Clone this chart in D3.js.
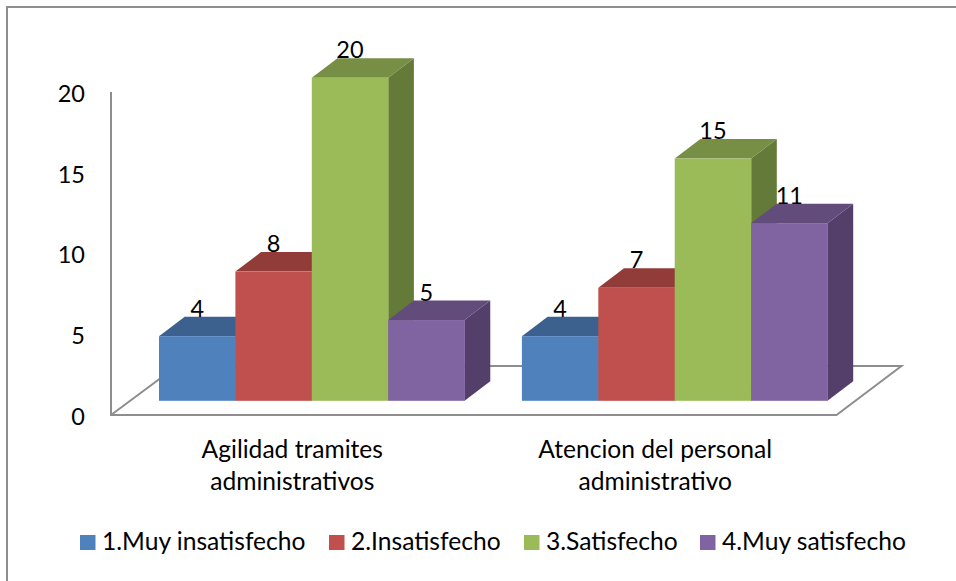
<!DOCTYPE html>
<html>
<head>
<meta charset="utf-8">
<script src="https://cdn.jsdelivr.net/npm/d3@7/dist/d3.min.js"></script>
<style>
html,body{margin:0;padding:0;background:#fff;}
svg{display:block;}
text{font-family:Lato,"Open Sans",sans-serif;fill:#000;}
</style>
</head>
<body>
<svg id="chart" width="956" height="581"></svg>
<script>
const categories = [["Agilidad tramites","administrativos"],["Atencion del personal","administrativo"]];
const seriesNames = ["1.Muy insatisfecho","2.Insatisfecho","3.Satisfecho","4.Muy satisfecho"];
const seriesValues = [[4,4],[8,7],[20,15],[5,11]];
const yTicks = [0,5,10,15,20];
const frontColors = ["#4F81BD","#C0504D","#9BBB59","#8064A2"];
const topColors = ["#3D618E","#923C3A","#778E45","#624C7C"];
const sideColors = ["#355479","#7E3331","#647A38","#533F69"];

const svg = d3.select("#chart");
const numSize = 23.5, textSize = 24.6, axisColor = "#8E8E8E";

// outer frame: top and left only reach the picture
svg.append("path").attr("d","M7 581V7H956").attr("fill","none").attr("stroke",axisColor).attr("stroke-width",2);

const y = d3.scaleLinear().domain([0,20]).range([415,92]);
const groupX = d3.scaleBand().domain([0,1]).range([159,827.5]).paddingInner(0.158).paddingOuter(0);
const barX = d3.scaleBand().domain(d3.range(seriesNames.length)).range([0,groupX.bandwidth()]);
const depthX = 25.7, depthY = -19.5, baseLift = -14.2;

// floor
svg.append("path")
  .attr("d",d3.line()([[111,415],[836.5,415],[901.5,366],[177,366],[111,415]]))
  .attr("fill","#fff").attr("stroke",axisColor).attr("stroke-width",2);

// value axis
const axis = d3.axisLeft(y).tickValues(yTicks).tickSize(0).tickPadding(26);
const gAxis = svg.append("g").attr("transform","translate(111,0)").call(axis);
gAxis.select(".domain").attr("stroke",axisColor).attr("stroke-width",2).attr("d","M0 92V416");
gAxis.selectAll("text").attr("font-size",numSize).attr("dy","0.4em");

// bars
const gBars = svg.append("g").attr("transform",`translate(0,${baseLift})`);
categories.forEach((_,c)=>{
  seriesNames.forEach((_,s)=>{
    const v = seriesValues[s][c];
    const x0 = groupX(c)+barX(s), x1 = x0+barX.bandwidth(), yt = y(v), yb = y(0);
    const g = gBars.append("g");
    g.append("path").attr("fill",sideColors[s])
      .attr("d",d3.line()([[x1,yt],[x1+depthX,yt+depthY],[x1+depthX,yb+depthY],[x1,yb]])+"Z");
    g.append("path").attr("fill",topColors[s])
      .attr("d",d3.line()([[x0,yt],[x0+depthX,yt+depthY],[x1+depthX,yt+depthY],[x1,yt]])+"Z");
    g.append("rect").attr("x",x0).attr("y",yt).attr("width",x1-x0+0.3).attr("height",yb-yt).attr("fill",frontColors[s]);
  });
});
// value labels go on top of every bar
categories.forEach((_,c)=>{
  seriesNames.forEach((_,s)=>{
    const v = seriesValues[s][c];
    gBars.append("text")
      .attr("x",groupX(c)+barX(s)+barX.bandwidth()/2)
      .attr("y",y(v)+depthY)
      .attr("text-anchor","middle").attr("font-size",numSize).text(v);
  });
});

// category labels
categories.forEach((lines,c)=>{
  lines.forEach((line,i)=>{
    svg.append("text")
      .attr("x",groupX(c)+groupX.bandwidth()/2-19.5)
      .attr("y",449+i*32.5).attr("dy","0.35em")
      .attr("text-anchor","middle").attr("font-size",textSize).text(line);
  });
});

// legend
const legendX = [80,329,524,700];
seriesNames.forEach((name,s)=>{
  svg.append("rect").attr("x",legendX[s]).attr("y",535).attr("width",15.5).attr("height",15).attr("fill",frontColors[s]);
  svg.append("text").attr("x",legendX[s]+22).attr("y",541.5).attr("dy","0.35em").attr("font-size",textSize).text(name);
});
</script>
</body>
</html>
